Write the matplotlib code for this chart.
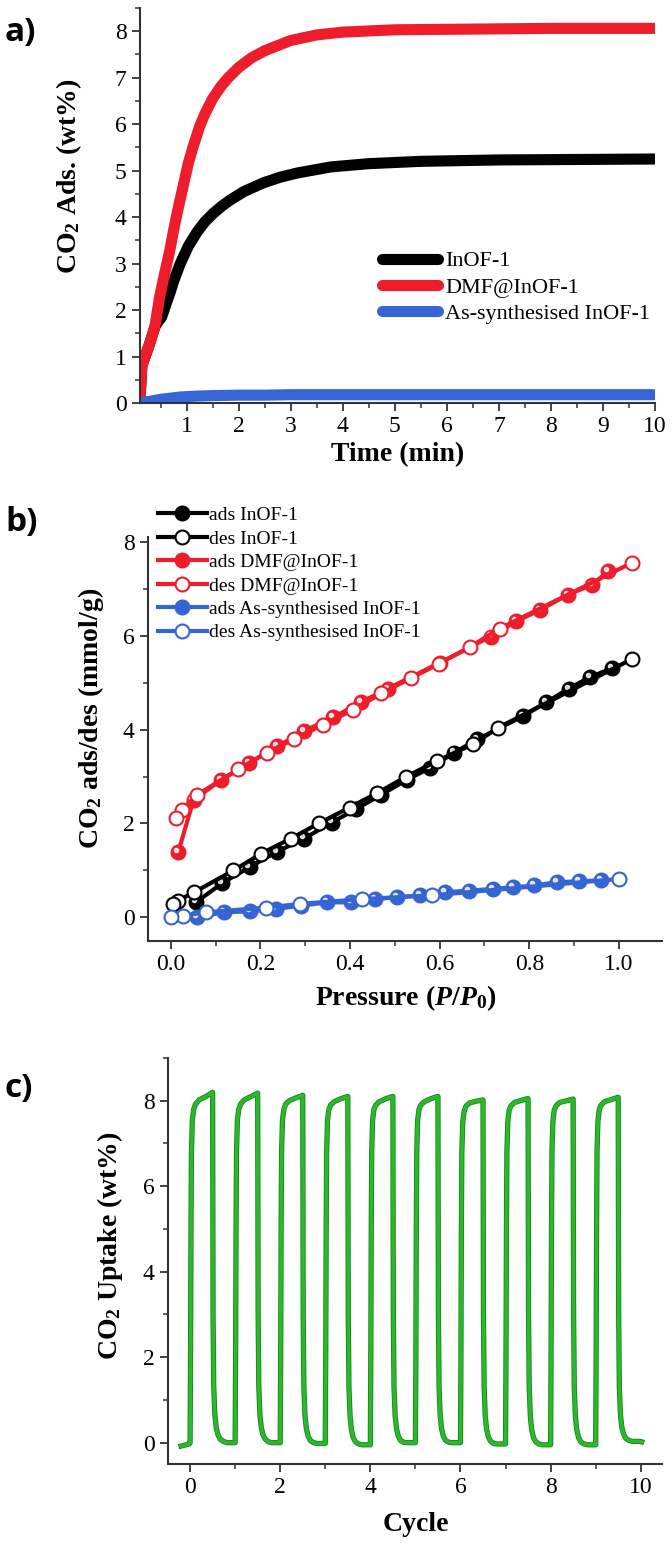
import matplotlib
matplotlib.use("Agg")
import matplotlib.pyplot as plt
import matplotlib.transforms as mtrans
import matplotlib.patheffects as pe
from matplotlib.ticker import MultipleLocator, FormatStrFormatter

plt.rcParams['font.family'] = 'Liberation Serif'
plt.rcParams['mathtext.fontset'] = 'custom'
plt.rcParams['mathtext.rm'] = 'Liberation Serif:bold'
plt.rcParams['mathtext.it'] = 'Liberation Serif:italic:bold'
plt.rcParams['mathtext.bf'] = 'Liberation Serif:bold'

# ---- panel a: CO2 adsorption vs time ----
t_inof = [0.1, 0.14, 0.29, 0.39, 0.45, 0.52, 0.61, 0.68, 0.75, 0.87, 1.03, 1.2, 1.35, 1.51,
          1.68, 1.84, 2.1, 2.48, 2.8, 3.13, 3.77, 4.5, 5.5, 7.0, 8.5, 10.0]
ads_inof = [0.0, 0.8, 1.28, 1.64, 1.75, 1.85, 2.15, 2.37, 2.62, 2.98, 3.37, 3.68, 3.9, 4.08,
            4.24, 4.37, 4.55, 4.74, 4.86, 4.95, 5.08, 5.15, 5.2, 5.23, 5.24, 5.25]
t_dmf = [0.1, 0.14, 0.29, 0.39, 0.48, 0.58, 0.68, 0.74, 0.81, 0.93, 1.03, 1.12, 1.25, 1.35,
         1.5, 1.65, 1.8, 2.0, 2.25, 2.5, 3.0, 3.5, 4.0, 5.0, 6.0, 7.0, 8.0, 9.0, 10.0]
ads_dmf = [0.0, 0.8, 1.28, 1.64, 2.28, 2.8, 3.3, 3.66, 4.05, 4.65, 5.15, 5.5, 5.95, 6.22,
           6.55, 6.8, 7.0, 7.22, 7.43, 7.58, 7.8, 7.92, 7.98, 8.03, 8.04, 8.05, 8.06, 8.06, 8.06]
t_as = [0.1, 0.3, 0.5, 0.87, 1.2, 1.5, 2.0, 2.5, 3.0, 4.0, 5.0, 7.0, 10.0]
ads_as = [0.0, 0.04, 0.08, 0.13, 0.15, 0.16, 0.17, 0.17, 0.18, 0.18, 0.18, 0.18, 0.18]
labels_a = ['InOF-1', 'DMF@InOF-1', 'As-synthesised InOF-1']

# ---- panel b: isotherms ----
p_ads_inof = [0.056, 0.115, 0.176, 0.237, 0.298, 0.359, 0.414, 0.469, 0.527, 0.578, 0.633,
              0.684, 0.787, 0.838, 0.888, 0.936, 0.984]
q_ads_inof = [0.32, 0.73, 1.07, 1.40, 1.68, 2.02, 2.31, 2.61, 2.93, 3.18, 3.51,
              3.79, 4.29, 4.58, 4.87, 5.12, 5.30]
p_des_inof = [1.029, 0.731, 0.675, 0.594, 0.524, 0.461, 0.399, 0.330, 0.268, 0.202, 0.140,
              0.053, 0.017, 0.006]
q_des_inof = [5.50, 4.04, 3.69, 3.33, 2.99, 2.65, 2.34, 2.00, 1.68, 1.36, 1.00,
              0.54, 0.36, 0.29]
p_ads_dmf = [0.017, 0.051, 0.113, 0.174, 0.238, 0.298, 0.363, 0.424, 0.484, 0.60, 0.714,
             0.770, 0.825, 0.886, 0.940, 0.976]
q_ads_dmf = [1.40, 2.50, 2.93, 3.28, 3.64, 3.97, 4.26, 4.58, 4.87, 5.42, 5.98,
             6.30, 6.55, 6.87, 7.08, 7.37]
p_des_dmf = [1.029, 0.734, 0.668, 0.599, 0.537, 0.470, 0.407, 0.339, 0.275, 0.214, 0.150,
             0.059, 0.025, 0.011]
q_des_dmf = [7.55, 6.15, 5.76, 5.40, 5.10, 4.77, 4.42, 4.10, 3.79, 3.51, 3.15,
             2.61, 2.29, 2.11]
p_ads_as = [0.059, 0.118, 0.178, 0.234, 0.29, 0.349, 0.402, 0.455, 0.505, 0.556, 0.613,
            0.666, 0.719, 0.763, 0.811, 0.861, 0.912, 0.960]
q_ads_as = [0.0, 0.11, 0.13, 0.18, 0.25, 0.32, 0.32, 0.39, 0.43, 0.47, 0.54,
            0.57, 0.61, 0.64, 0.68, 0.75, 0.77, 0.79]
p_des_as = [1.0, 0.583, 0.426, 0.289, 0.213, 0.078, 0.027, 0.001]
q_des_as = [0.82, 0.47, 0.39, 0.29, 0.21, 0.11, 0.04, 0.01]

# ---- panel c: cycling ----
cycle_phase = [0.0, 0.01, 0.02, 0.03, 0.05, 0.08, 0.12, 0.2, 0.35, 0.49,
               0.5, 0.51, 0.525, 0.55, 0.58, 0.62, 0.67, 0.74, 0.82, 0.99]
cycle_uptake = [
    [0.0, 2.0, 5.0, 6.8, 7.55, 7.8, 7.92, 8.02, 8.1, 8.19, 8.2, 3.0, 1.3, 0.65, 0.35, 0.18, 0.08, 0.03, 0.0, 0.0],
    [0.0, 2.0, 5.0, 6.8, 7.55, 7.8, 7.92, 8.02, 8.1, 8.17, 8.18, 3.0, 1.3, 0.65, 0.35, 0.18, 0.08, 0.02, 0.0, 0.0],
    [0.0, 2.0, 5.0, 6.8, 7.55, 7.8, 7.92, 8.0, 8.07, 8.12, 8.13, 3.0, 1.3, 0.63, 0.33, 0.15, 0.05, 0.0, -0.02, -0.02],
    [-0.02, 2.0, 5.0, 6.8, 7.55, 7.8, 7.9, 7.98, 8.05, 8.1, 8.1, 3.0, 1.3, 0.62, 0.3, 0.12, 0.02, -0.03, -0.05, -0.05],
    [-0.05, 2.0, 5.0, 6.8, 7.55, 7.8, 7.9, 7.98, 8.05, 8.1, 8.1, 3.0, 1.3, 0.63, 0.33, 0.15, 0.05, 0.01, 0.0, 0.0],
    [0.0, 2.0, 5.0, 6.8, 7.55, 7.8, 7.9, 7.98, 8.05, 8.1, 8.1, 3.0, 1.3, 0.63, 0.33, 0.15, 0.05, 0.01, 0.0, 0.0],
    [0.0, 2.0, 5.0, 6.8, 7.5, 7.75, 7.87, 7.95, 7.99, 8.02, 8.02, 3.0, 1.3, 0.62, 0.31, 0.13, 0.03, -0.02, -0.03, -0.03],
    [-0.03, 2.0, 5.0, 6.8, 7.5, 7.78, 7.88, 7.96, 8.01, 8.05, 8.05, 3.0, 1.3, 0.62, 0.3, 0.12, 0.02, -0.03, -0.05, -0.05],
    [-0.05, 2.0, 5.0, 6.8, 7.5, 7.78, 7.88, 7.96, 8.0, 8.04, 8.04, 3.0, 1.3, 0.62, 0.3, 0.12, 0.02, -0.03, -0.05, -0.05],
    [-0.05, 2.0, 5.0, 6.8, 7.52, 7.8, 7.9, 7.98, 8.03, 8.08, 8.08, 3.0, 1.3, 0.65, 0.36, 0.2, 0.1, 0.05, 0.03, 0.03],
]
lead_x = [-0.2, -0.02]
lead_y = [-0.08, -0.03]
tail_x = [10.02]
tail_y = [0.02]

RED = '#ee1d2b'
BLUE = '#3565d4'
GREEN = '#2cb82c'
SPINE = '#333333'


def style_axes(ax):
    for s in ['top', 'right']:
        ax.spines[s].set_visible(False)
    for s in ['left', 'bottom']:
        ax.spines[s].set_color(SPINE)
        ax.spines[s].set_linewidth(1.5)
    ax.tick_params(which='major', direction='out', length=6, width=1.3, labelsize=17,
                   colors=SPINE, labelcolor='black')
    ax.tick_params(which='minor', direction='out', length=3.5, width=1.1, colors=SPINE)


fig = plt.figure(figsize=(6.72, 15.55), dpi=100)

# panel a
ax1 = fig.add_axes([0.208, 0.7408, 0.767, 0.2541])
h1, = ax1.plot(t_inof, ads_inof, color='black', lw=8, solid_capstyle='round',
               solid_joinstyle='round')
h2, = ax1.plot(t_dmf, ads_dmf, color=RED, lw=8, solid_capstyle='round',
               solid_joinstyle='round')
h3, = ax1.plot(t_as, ads_as, color=BLUE, lw=8, solid_capstyle='round')
ax1.set_xlim(0.1, 10)
ax1.set_ylim(0, 8.5)
ax1.xaxis.set_major_locator(MultipleLocator(1))
ax1.xaxis.set_minor_locator(MultipleLocator(0.5))
ax1.yaxis.set_major_locator(MultipleLocator(1))
ax1.yaxis.set_minor_locator(MultipleLocator(0.5))
style_axes(ax1)
ax1.set_xlabel('Time (min)', fontsize=20, fontweight='bold')
ax1.set_ylabel('CO$_2$ Ads. (wt%)', fontsize=20, fontweight='bold')
ax1.xaxis.set_label_coords(0.50, -0.10)
ax1.yaxis.set_label_coords(-0.109, 0.575)
ax1.legend([h1, h2, h3], labels_a, loc='upper left', bbox_to_anchor=(0.47, 0.385),
           frameon=False, fontsize=16, handlelength=2.5, handletextpad=0.35,
           labelspacing=0.25, borderpad=0, borderaxespad=0)

# panel b
ax2 = fig.add_axes([0.220, 0.3949, 0.765, 0.2598])
off = mtrans.offset_copy(ax2.transData, fig=fig, x=-1.5, y=1.5, units='points')
series_b = [
    (p_ads_inof, q_ads_inof, 'black', True, 'ads InOF-1'),
    (p_des_inof, q_des_inof, 'black', False, 'des InOF-1'),
    (p_ads_dmf, q_ads_dmf, RED, True, 'ads DMF@InOF-1'),
    (p_des_dmf, q_des_dmf, RED, False, 'des DMF@InOF-1'),
    (p_ads_as, q_ads_as, BLUE, True, 'ads As-synthesised InOF-1'),
    (p_des_as, q_des_as, BLUE, False, 'des As-synthesised InOF-1'),
]
handles_b = []
for px, qy, col, filled, lab in series_b:
    h, = ax2.plot(px, qy, '-o', color=col, lw=3, ms=10, mew=1.5,
                  mfc=col if filled else 'white', mec=col, label=lab)
    handles_b.append(h)
    if filled:
        ax2.plot(px, qy, 'o', ms=3, color='white', alpha=0.8, transform=off)
ax2.set_xlim(-0.051, 1.096)
ax2.set_ylim(-0.5, 8.1)
ax2.xaxis.set_major_locator(MultipleLocator(0.2))
ax2.xaxis.set_minor_locator(MultipleLocator(0.1))
ax2.xaxis.set_major_formatter(FormatStrFormatter('%.1f'))
ax2.yaxis.set_major_locator(MultipleLocator(2))
ax2.yaxis.set_minor_locator(MultipleLocator(1))
style_axes(ax2)
ax2.set_xlabel('Pressure ($P/P_0$)', fontsize=20, fontweight='bold')
ax2.set_ylabel('CO$_2$ ads/des (mmol/g)', fontsize=20, fontweight='bold')
ax2.xaxis.set_label_coords(0.502, -0.105)
ax2.yaxis.set_label_coords(-0.082, 0.552)
ax2.legend(handles=handles_b, loc='upper left', bbox_to_anchor=(0.02, 1.075),
           frameon=False, fontsize=14, handlelength=2.5, handletextpad=0.1,
           labelspacing=0.3, borderpad=0, borderaxespad=0, numpoints=1)

# panel c
ax3 = fig.add_axes([0.25, 0.0585, 0.735, 0.2611])
xs = list(lead_x)
ys = list(lead_y)
for i, row in enumerate(cycle_uptake):
    xs += [i + ph for ph in cycle_phase]
    ys += row
xs += tail_x
ys += tail_y
ax3.plot(xs, ys, color=GREEN, lw=2.6,
         path_effects=[pe.Stroke(linewidth=3.8, foreground='#16861a'), pe.Normal()])
ax3.set_xlim(-0.49, 10.47)
ax3.set_ylim(-0.5, 9.0)
ax3.xaxis.set_major_locator(MultipleLocator(2))
ax3.xaxis.set_minor_locator(MultipleLocator(1))
ax3.yaxis.set_major_locator(MultipleLocator(2))
ax3.yaxis.set_minor_locator(MultipleLocator(1))
style_axes(ax3)
ax3.set_xlabel('Cycle', fontsize=20, fontweight='bold')
ax3.set_ylabel('CO$_2$ Uptake (wt%)', fontsize=20, fontweight='bold')
ax3.xaxis.set_label_coords(0.502, -0.118)
ax3.yaxis.set_label_coords(-0.087, 0.537)

# panel letters
for lab, ypx in [('a)', 33), ('b)', 522), ('c)', 1088)]:
    fig.text(5 / 672, 1 - ypx / 1555, lab, fontsize=24, fontweight='bold',
             family='Open Sans', va='center', ha='left')

fig.savefig('out.png', dpi=100)
